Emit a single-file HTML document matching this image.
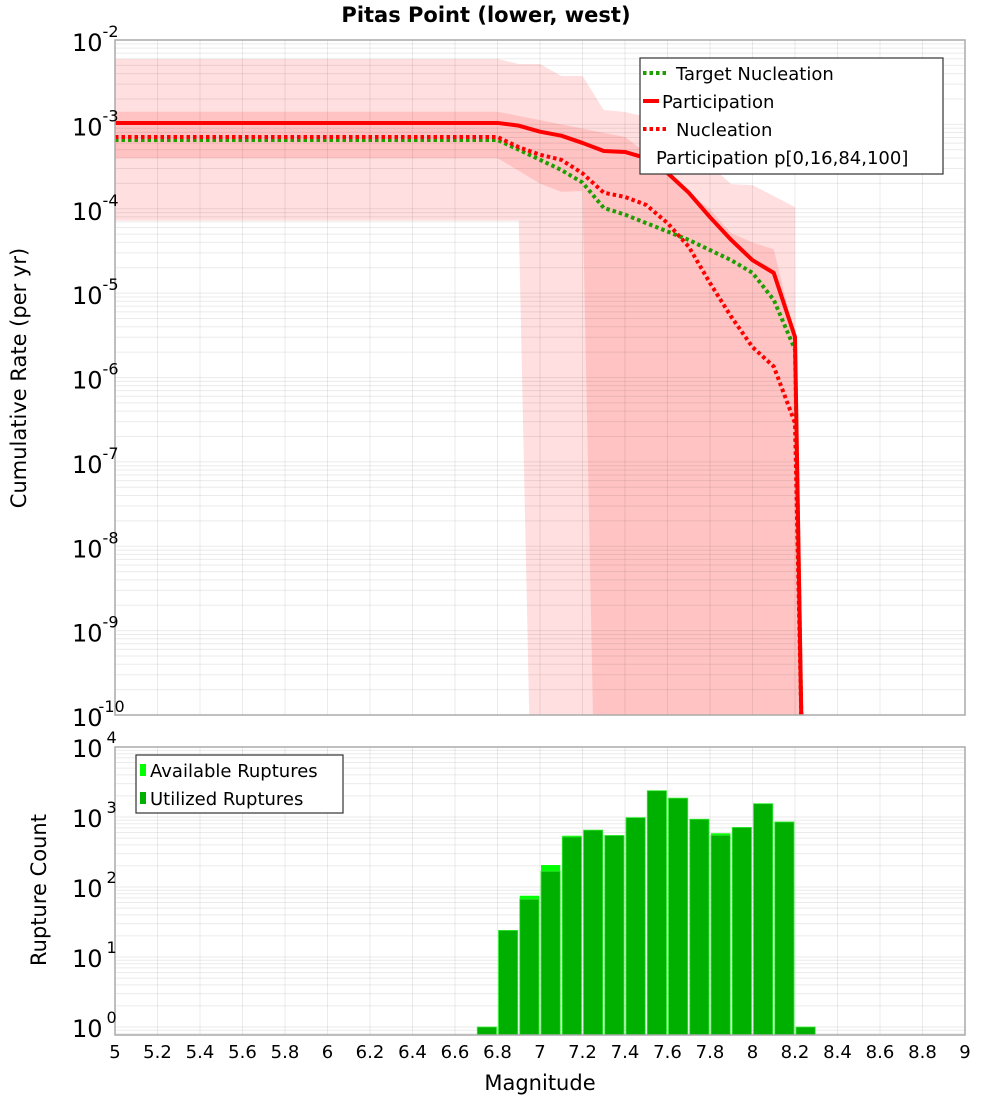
<!DOCTYPE html>
<html><head><meta charset="utf-8"><style>
html,body{margin:0;padding:0;background:#fff;}
svg{display:block;font-family:"DejaVu Sans","Liberation Sans",sans-serif;}
</style></head><body>
<svg id="chart" width="1000" height="1100" viewBox="0 0 1000 1100" xmlns="http://www.w3.org/2000/svg">
<text x="486" y="22" text-anchor="middle" font-size="21" font-weight="bold">Pitas Point (lower, west)</text>
<g id="topPanel"></g>
<g id="botPanel"></g>
<text transform="translate(26,378) rotate(-90)" text-anchor="middle" font-size="21">Cumulative Rate (per yr)</text>
<text transform="translate(46,890) rotate(-90)" text-anchor="middle" font-size="21">Rupture Count</text>
<text x="540" y="1090" text-anchor="middle" font-size="21">Magnitude</text>
</svg>
<script>
// ---- data ----
const mags = [5.0,6.8,6.9,7.0,7.1,7.2,7.3,7.4,7.5,7.6,7.7,7.8,7.9,8.0,8.1,8.2,8.23];
const partLog = [-2.983,-2.983,-3.015,-3.087,-3.134,-3.22,-3.315,-3.327,-3.40,-3.576,-3.81,-4.10,-4.37,-4.61,-4.76,-5.52,-11];
const targetLog = [-3.185,-3.185,-3.30,-3.42,-3.54,-3.69,-3.99,-4.07,-4.17,-4.27,-4.37,-4.49,-4.61,-4.76,-5.08,-5.67,-11];
const nuclLog = [-3.15,-3.15,-3.27,-3.36,-3.42,-3.58,-3.81,-3.86,-3.955,-4.17,-4.45,-4.88,-5.28,-5.64,-5.87,-6.54,-11];
const outerMags = [5.0,6.8,6.9,7.0,7.1,7.2,7.3,7.4,7.5,7.6,7.7,7.8,7.9,8.0,8.2,8.205];
const outerUpLog = [-2.225,-2.225,-2.284,-2.284,-2.427,-2.427,-2.83,-2.853,-2.91,-3.04,-3.30,-3.48,-3.71,-3.72,-3.98,-11];
const outerLoMags = [5.0,6.9,6.95];
const outerLoLog = [-4.14,-4.14,-11];
const innerUpLog = [-2.85,-2.85,-2.9,-2.95,-3.0,-3.05,-3.10,-3.15,-3.34,-3.58,-3.81,-4.01,-4.29,-4.40,-4.48,-5.53,-11];
const innerLoMags = [5.0,6.8,6.9,7.0,7.1,7.2,7.25];
const innerLoLog = [-3.40,-3.40,-3.55,-3.70,-3.80,-3.79,-11];
const binStarts = [6.7,6.8,6.9,7.0,7.1,7.2,7.3,7.4,7.5,7.6,7.7,7.8,7.9,8.0,8.1,8.2];
const available = [1,24,75,206,540,650,545,980,2375,1860,930,585,710,1550,850,1];
const utilized = [1,24,67,168,520,650,545,980,2375,1860,930,550,710,1550,850,1];
const xTicks = [5,5.2,5.4,5.6,5.8,6,6.2,6.4,6.6,6.8,7,7.2,7.4,7.6,7.8,8,8.2,8.4,8.6,8.8,9];
const topExps = [-2,-3,-4,-5,-6,-7,-8,-9,-10];
const botExps = [0,1,2,3,4];

const NS="http://www.w3.org/2000/svg";
const X0=115,X1=965;
const xs=m=>X0+(m-5)/4*(X1-X0);
const TT=40,TB=715;
const ysTop=l=>{const v=TT+(-2-l)*(TB-TT)/8;return Math.min(v,TB+6);};
const BT=747,B0=1027,BB=1035;
const ysBot=v=>B0-Math.log10(v)*(B0-BT)/4;
function mk(tag,attrs,parent){const e=document.createElementNS(NS,tag);for(const k in attrs)e.setAttribute(k,attrs[k]);parent.appendChild(e);return e;}
function powLabel(parent,x,y,exp,anchor,dx){
  const t=mk('text',{x:x,y:y,'text-anchor':anchor,'font-size':24},parent);
  
  
  const a=mk('tspan',{},t);a.textContent='10';
  const b=mk('tspan',{dx:dx,dy:-14,'font-size':16},t);b.textContent=String(exp);
  return t;
}
const topG=document.getElementById('topPanel'),botG=document.getElementById('botPanel');

const defs=mk('defs',{},topG);
const cp=mk('clipPath',{id:'ct'},defs);mk('rect',{x:X0,y:TT,width:X1-X0,height:TB-TT},cp);
const cp2=mk('clipPath',{id:'cb'},defs);mk('rect',{x:X0,y:BT,width:X1-X0,height:BB-BT},cp2);

// ---- top panel ----
mk('rect',{x:X0,y:TT,width:X1-X0,height:TB-TT,fill:'#fff'},topG);
const tg=mk('g',{'clip-path':'url(#ct)'},topG);
function band(upM,upL,loM,loL,fill,name){
  let pts=upM.map((m,i)=>xs(m)+','+ysTop(upL[i]));
  for(let i=loM.length-1;i>=0;i--)pts.push(xs(loM[i])+','+ysTop(loL[i]));
  const p=mk('polygon',{points:pts.join(' '),fill:fill},tg);
  
  
}
band(outerMags,outerUpLog,outerLoMags,outerLoLog,'#ffdfdf','band-p0-p100');
band(mags,innerUpLog,innerLoMags,innerLoLog,'#ffc3c3','band-p16-p84');
for(let e=-10;e<-2;e++){for(let k=1;k<10;k++){const y=ysTop(e+Math.log10(k));const l=mk('line',{x1:X0,x2:X1,y1:y,y2:y,stroke:'rgba(0,0,0,0.08)','stroke-width':1},tg);
  
  }}
for(let m=5;m<=9.001;m+=0.2){const x=xs(m);const l=mk('line',{x1:x,x2:x,y1:TT,y2:TB,stroke:'rgba(0,0,0,0.08)','stroke-width':1},tg);
  
  }
function line(L,stroke,dash,name){
  const p=mk('polyline',{points:mags.map((m,i)=>xs(m)+','+ysTop(L[i])).join(' '),fill:'none',stroke:stroke,'stroke-width':4,'stroke-linejoin':'round'},tg);
  if(dash)p.setAttribute('stroke-dasharray',dash);
  
  
}
line(targetLog,'#1e9e00','3.5,3','target-nucleation-line');
line(nuclLog,'#ff0000','3.5,3','nucleation-line');
line(partLog,'#ff0000',null,'participation-line');
mk('rect',{x:X0,y:TT,width:X1-X0,height:TB-TT,fill:'none',stroke:'#aaa','stroke-width':1.5},topG);
topExps.forEach(e=>{const y=ysTop(e);
  if(e===-10) powLabel(topG,72,y+11,e,'start',-4);
  else powLabel(topG,72,y+11,e,'start',0);
});
const lg=mk('g',{},topG);


mk('rect',{x:640,y:58,width:303,height:116,fill:'#fff',stroke:'#333','stroke-width':1.2},lg);
const items=[['Target Nucleation','#1e9e00','3.5,3',73,'legend-entry-target-nucleation',676],['Participation','#ff0000',null,101,'legend-entry-participation',662],['Nucleation','#ff0000','3.5,3',129,'legend-entry-nucleation',676],['Participation p[0,16,84,100]',null,null,157,'legend-entry-percentiles',656]];
items.forEach(it=>{const g=mk('g',{},lg);
  
  
  if(it[1]){const l=mk('line',{x1:643,x2:it[2]?669:659,y1:it[3],y2:it[3],stroke:it[1],'stroke-width':4},g);if(it[2])l.setAttribute('stroke-dasharray',it[2]);}
  const t=mk('text',{x:it[5],y:it[3]+7,'font-size':18},g);t.textContent=it[0];});

// ---- bottom panel ----
mk('rect',{x:X0,y:BT,width:X1-X0,height:BB-BT,fill:'#fff'},botG);
const bg=mk('g',{'clip-path':'url(#cb)'},botG);
for(let e=-1;e<4;e++){for(let k=1;k<10;k++){const y=ysBot(Math.pow(10,e)*k);const l=mk('line',{x1:X0,x2:X1,y1:y,y2:y,stroke:'rgba(0,0,0,0.08)','stroke-width':1},bg);
  
  }}
for(let m=5;m<=9.001;m+=0.2){const x=xs(m);const l=mk('line',{x1:x,x2:x,y1:BT,y2:BB,stroke:'rgba(0,0,0,0.08)','stroke-width':1},bg);
  
  }
binStarts.forEach((b,i)=>{
  const x=xs(b)+1,w=xs(b+0.1)-xs(b)-2;
  const ya=ysBot(available[i]);
  const ra=mk('rect',{x:x,y:ya,width:w,height:BB-ya,fill:'#00ff00'},bg);
  
  
  const yu=ysBot(utilized[i]);
  const ru=mk('rect',{x:x,y:yu,width:w,height:BB-yu,fill:'#00b000',stroke:'#33ee33','stroke-width':0.8},bg);
  
  
});
mk('rect',{x:X0,y:BT,width:X1-X0,height:BB-BT,fill:'none',stroke:'#aaa','stroke-width':1.5},botG);
botExps.forEach(e=>{const y=ysBot(Math.pow(10,e));powLabel(botG,72,y+10,e,'start',4);});
xTicks.forEach(m=>{const t=mk('text',{x:xs(m),y:1058,'text-anchor':'middle','font-size':18},botG);
  
  
  t.textContent=String(m);});
const lb=mk('g',{},botG);


mk('rect',{x:136,y:755,width:207,height:58,fill:'#fff',stroke:'#333','stroke-width':1.2},lb);
[['Available Ruptures','#00ff00',770,'legend-entry-available'],['Utilized Ruptures','#00b000',798,'legend-entry-utilized']].forEach(it=>{
  const g=mk('g',{},lb);
  
  
  mk('rect',{x:140,y:it[2]-6,width:6,height:12,fill:it[1]},g);
  const t=mk('text',{x:150,y:it[2]+7,'font-size':18},g);t.textContent=it[0];});
</script>
</body></html>
